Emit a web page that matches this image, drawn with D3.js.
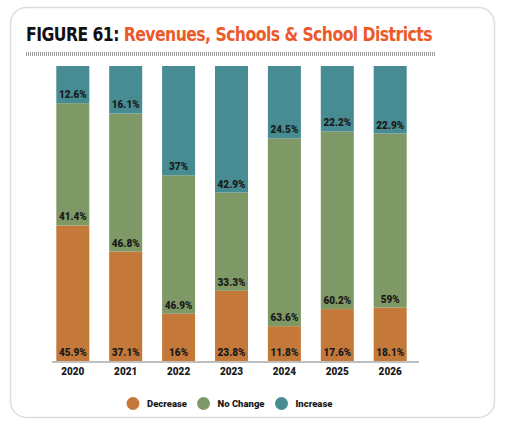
<html>
<head>
<meta charset="UTF-8">
<script src="https://d3js.org/d3.v7.min.js"></script>
<style>
  body { margin: 0; background: #fff; }
  text { font-family: Roboto, "Liberation Sans", sans-serif; }
</style>
</head>
<body>
<svg id="chart" width="506" height="426"></svg>
<script>
// data
const years = ["2020", "2021", "2022", "2023", "2024", "2025", "2026"];
const decrease = [45.9, 37.1, 16, 23.8, 11.8, 17.6, 18.1];
const noChange = [41.4, 46.8, 46.9, 33.3, 63.6, 60.2, 59];
const increase = [12.6, 16.1, 37, 42.9, 24.5, 22.2, 22.9];
const seriesNames = ["Decrease", "No Change", "Increase"];
const colors = ["#c4793b", "#7f9966", "#468c92"];

let svg = d3.select("svg#chart");

// card frame
svg.append("rect")
   .attr("x", 10.5).attr("y", 7.5)
   .attr("width", 484).attr("height", 410)
   .attr("rx", 16)
   .attr("fill", "#fff")
   .attr("stroke", "#dedede")
   .attr("stroke-width", 1.5);

// title
let title = svg.append("text")
   .attr("x", 26).attr("y", 41)
   .attr("textLength", 406)
   .attr("lengthAdjust", "spacingAndGlyphs")
   .style("font-family", "'DejaVu Sans Condensed', 'DejaVu Sans', sans-serif")
   .style("font-size", "19px")
   .style("font-weight", "bold")
   .style("letter-spacing", "-0.6px");
title.append("tspan").attr("fill", "#111").text("FIGURE 61: ");
title.append("tspan").attr("fill", "#ec5a2c").text("Revenues, Schools & School Districts");

// dotted rule under title
svg.append("line")
   .attr("x1", 26).attr("x2", 436)
   .attr("y1", 54).attr("y2", 54)
   .attr("stroke", "#9a9a9a")
   .attr("stroke-width", 4)
   .attr("stroke-dasharray", "1,1");

// build table for stacking
let table = years.map((y, i) => ({
    year: y, "Decrease": decrease[i], "No Change": noChange[i], "Increase": increase[i]
}));

let stack = d3.stack().keys(seriesNames).offset(d3.stackOffsetExpand);
let layers = stack(table);

let x = d3.scaleBand().domain(years).range([56.3, 406.7]).paddingInner(0.376).paddingOuter(0);
let yScale = d3.scaleLinear().domain([0, 1]).range([361, 66]);
let color = d3.scaleOrdinal().domain(seriesNames).range(colors);

let g = svg.append("g");
layers.forEach(layer => {
    g.selectAll(null).data(layer).enter().append("rect")
        .attr("x", d => x(d.data.year))
        .attr("width", x.bandwidth())
        .attr("y", d => yScale(d[1]))
        .attr("height", d => yScale(d[0]) - yScale(d[1]))
        .attr("fill", color(layer.key));
});

// segment labels near the bottom of each segment
layers.forEach(layer => {
    g.selectAll(null).data(layer).enter().append("text")
        .attr("x", d => x(d.data.year) + x.bandwidth() / 2)
        .attr("y", d => yScale(d[0]) - 5)
        .attr("text-anchor", "middle")
        .style("font-size", "10px")
        .style("font-weight", "900")
        .attr("fill", "#1a1a1a")
        .text(d => d.data[layer.key] + "%");
});

// x axis
let xAxis = svg.append("g")
   .attr("transform", "translate(0,362)")
   .call(d3.axisBottom(x).tickSize(0).tickPadding(6));
xAxis.select(".domain").attr("stroke", "#aaa").attr("stroke-width", 1.5)
   .attr("d", "M52,0H419");
xAxis.selectAll("text")
   .style("font-family", "Roboto, sans-serif")
   .style("font-size", "10px")
   .style("font-weight", "900")
   .attr("fill", "#1a1a1a");

// legend
let legendX = [133, 203.5, 281.5];
seriesNames.forEach((name, i) => {
    svg.append("circle")
       .attr("cx", legendX[i]).attr("cy", 403.5)
       .attr("r", 6.5)
       .attr("fill", colors[i]);
    svg.append("text")
       .attr("x", legendX[i] + 14).attr("y", 407)
       .style("font-size", "9.5px")
       .style("font-weight", "900")
       .attr("fill", "#1a1a1a")
       .text(name);
});
</script>
</body>
</html>
